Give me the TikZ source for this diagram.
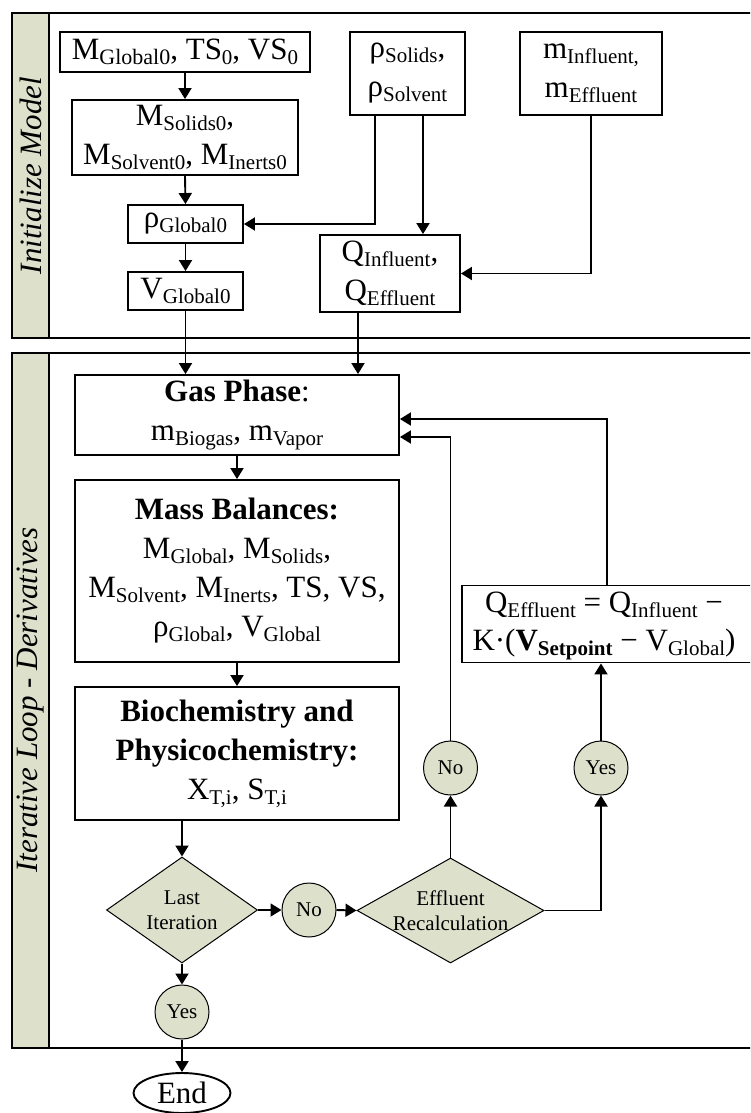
\documentclass[tikz,border=0pt]{standalone}
\usepackage{fontspec}
\setmainfont{Liberation Serif}
\usetikzlibrary{shapes.geometric,arrows.meta,calc}
\definecolor{sage}{RGB}{221,225,204}
\newcommand\sbs[1]{\raisebox{-5pt}{\fontsize{21}{21}\selectfont #1}}
\begin{document}
\begin{tikzpicture}[x=1pt,y=-1pt,
  box/.style={draw, line width=1.9pt, inner sep=0pt, align=center, font=\fontsize{31}{39}\selectfont, fill=white},
  dia/.style={diamond, draw, line width=1pt, fill=sage, inner sep=0pt},
  circ/.style={circle, draw, line width=1pt, fill=sage, inner sep=0pt, minimum size=54pt, font=\fontsize{21}{25}\selectfont},
  arr/.style={line width=1.9pt, -{Triangle[length=11pt,width=13pt]}},
  small/.style={font=\fontsize{21}{25}\selectfont, align=center, inner sep=0pt},
  side/.style={rotate=90, font=\fontsize{31}{31}\selectfont\itshape, inner sep=0pt},
  frame/.style={draw, line width=2.2pt}]
\useasboundingbox (0,0) rectangle (750,1113);
\begin{scope}
\clip (0,0) rectangle (750,1113);
% panels
\path[frame, fill=white] (12,13) rectangle (780,338);
\path[frame, fill=sage] (12,13) rectangle (49,338);
\path[frame, fill=white] (12,353) rectangle (780,1048);
\path[frame, fill=sage] (12,353) rectangle (49,1048);
\node[box, minimum width=298pt, minimum height=76pt] (qe) at (611,624)
  {\hspace*{-14pt}\begin{tabular}{@{}c@{}}Q\sbs{Effluent} = Q\sbs{Influent} −\\[-1pt]
   K·(\textbf{V}\sbs{\bfseries Setpoint} − V\sbs{Global})\end{tabular}};
\end{scope}
\node[side] (lab1) at (31,175.5) {Initialize Model};
\node[side] (lab2) at (31,700) {Iterative Loop - Derivatives};

% top panel boxes
\node[box, minimum width=250pt, minimum height=40pt] (mg0) at (185,52) {M\sbs{\fontsize{22}{22}\selectfont Global0}, TS\sbs{0}, VS\sbs{0}};
\node[box, minimum width=226pt, minimum height=75pt] (ms0) at (185,137.5) {M\sbs{Solids0},\\M\sbs{Solvent0}, M\sbs{Inerts0}};
\node[box, minimum width=115pt, minimum height=38pt] (rg0) at (185.5,224) {ρ\sbs{Global0}};
\node[box, minimum width=115pt, minimum height=38pt] (vg0) at (185.5,291) {V\sbs{Global0}};
\node[box, minimum width=115pt, minimum height=83pt] (rs) at (407.5,73.5) {ρ\sbs{Solids},\\ρ\sbs{Solvent}};
\node[box, minimum width=142pt, minimum height=83pt] (mi) at (591,73.5) {m\sbs{Influent,}\\m\sbs{Effluent}};
\node[box, minimum width=140pt, minimum height=77pt] (qi) at (390,273.5) {Q\sbs{Influent},\\Q\sbs{Effluent}};

% lower panel boxes
\node[box, minimum width=324pt, minimum height=80pt] (gp) at (237,415) {\textbf{Gas Phase}:\\m\sbs{Biogas}, m\sbs{Vapor}};
\node[box, minimum width=324pt, minimum height=182pt] (mb) at (237,571)
  {\textbf{Mass Balances:}\\M\sbs{Global}, M\sbs{Solids},\\M\sbs{Solvent}, M\sbs{Inerts}, TS, VS,\\ρ\sbs{Global}, V\sbs{Global}};
\node[box, minimum width=324pt, minimum height=133pt] (bc) at (237,753.5)
  {\textbf{Biochemistry and}\\\textbf{Physicochemistry:}\\X\sbs{T,i}, S\sbs{T,i}};

\node[dia, minimum width=151pt, minimum height=106pt] (li) at (182,910) {};
\node[small] (lit) at (li) {Last\\Iteration};
\node[dia, minimum width=187pt, minimum height=105pt] (er) at (450.5,910.5) {};
\node[small] (ert) at (er) {Effluent\\Recalculation};
\node[circ] (no1) at (309,910) {No};
\node[circ] (yes1) at (182,1012) {Yes};
\node[circ] (no2) at (450.5,768) {No};
\node[circ] (yes2) at (601,768) {Yes};
\node[ellipse, draw, line width=1.9pt, fill=white, inner sep=0pt, minimum width=97pt, minimum height=40pt,
  font=\fontsize{31}{31}\selectfont] (end) at (182,1093) {End};

% helper points
\coordinate (rsL) at ($(rs.south)+(-32.5,0)$);
\coordinate (rsR) at ($(rs.south)+(15.5,0)$);
\coordinate (qiB) at ($(qi.south)+(-32,0)$);
\coordinate (gpA) at ($(gp.east)+(0,4)$);
\coordinate (gpB) at ($(gp.east)+(0,22)$);
\coordinate (qeT) at ($(qe.north)+(-4,0)$);

% connectors top
\draw[arr] (mg0.south) -- (ms0.north);
\draw[arr] (ms0.south) -- (rg0.north);
\draw[arr] (rg0.south) -- (vg0.north);
\draw[arr] (rsL) |- (rg0.east);
\draw[arr] (rsR) -- (rsR |- qi.north);
\draw[arr] (mi.south) |- (qi.east);
\draw[arr] (vg0.south) -- (vg0.south |- gp.north);
\draw[arr] (qiB) -- (qiB |- gp.north);

% connectors lower
\draw[arr] (gp.south) -- (mb.north);
\draw[arr] (mb.south) -- (bc.north);
\draw[arr] (bc.south -| li.north) -- (li.north);
\draw[arr] (li.east) -- (no1.west);
\draw[arr] (no1.east) -- (er.west);
\draw[arr] (li.south) -- (yes1.north);
\draw[arr] (yes1.south) -- (end.north);
\draw[arr] (er.north) -- (no2.south);
\draw[arr] (er.east) -| (yes2.south);
\draw[arr] (yes2.north) -- (yes2.north |- qe.south);
\draw[arr] (no2.north) |- (gpB);
\draw[arr] (qeT) |- (gpA);
\end{tikzpicture}
\end{document}
